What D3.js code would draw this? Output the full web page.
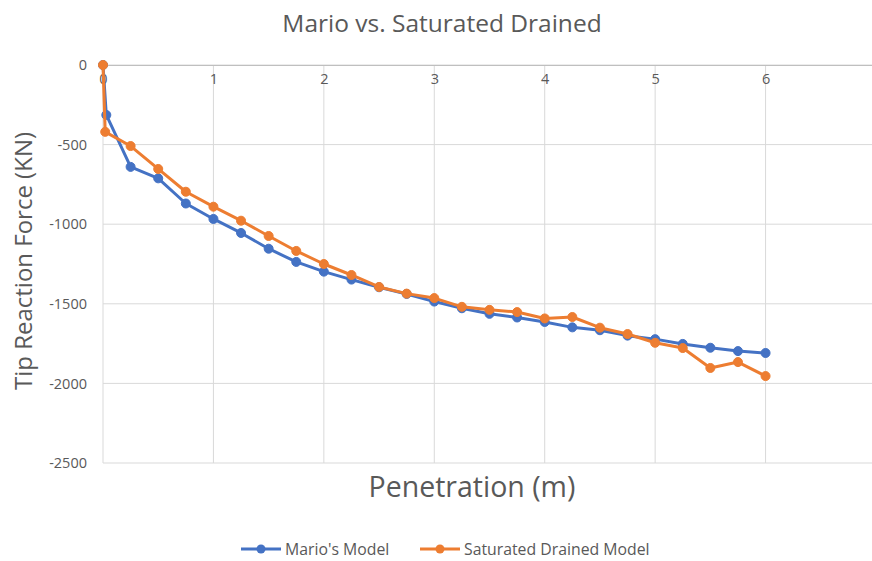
<!DOCTYPE html>
<html><head><meta charset="utf-8">
<script src="https://cdn.jsdelivr.net/npm/d3@7"></script>
<style>body{margin:0;background:#fff}svg{display:block}text{font-family:"Open Sans","Noto Sans",sans-serif}</style>
</head><body>
<svg id="c" width="872" height="561"></svg>
<script>
const marioX = [0, 0.03, 0.25, 0.5, 0.75, 1.0, 1.25, 1.5, 1.75, 2.0, 2.25, 2.5, 2.75, 3.0, 3.25, 3.5, 3.75, 4.0, 4.25, 4.5, 4.75, 5.0, 5.25, 5.5, 5.75, 6.0];
const marioY = [0, -314, -640, -712, -870, -967, -1055, -1154, -1237, -1298, -1348, -1396, -1438, -1486, -1528, -1563, -1586, -1614, -1648, -1666, -1700, -1722, -1752, -1776, -1797, -1809];
const drainedX = [0, 0.02, 0.25, 0.5, 0.75, 1.0, 1.25, 1.5, 1.75, 2.0, 2.25, 2.5, 2.75, 3.0, 3.25, 3.5, 3.75, 4.0, 4.25, 4.5, 4.75, 5.0, 5.25, 5.5, 5.75, 6.0];
const drainedY = [0, -420, -509, -653, -796, -890, -978, -1074, -1168, -1250, -1319, -1394, -1436, -1464, -1519, -1538, -1552, -1592, -1583, -1650, -1690, -1745, -1778, -1903, -1866, -1954];
const xTicks = [0, 1, 2, 3, 4, 5, 6, 7];
const yTicks = [0, -500, -1000, -1500, -2000, -2500];
const title = "Mario vs. Saturated Drained";
const xTitle = "Penetration (m)";
const yTitle = "Tip Reaction Force (KN)";
const seriesNames = ["Mario's Model", "Saturated Drained Model"];
const colors = ["#4472C4", "#ED7D31"];

const svg = d3.select("#c");
const x = d3.scaleLinear().domain([0, 7]).range([103, 876]);
const y = d3.scaleLinear().domain([-2500, 0]).range([463, 65]);
const fmt = d => String(d);

// gridlines
const grid = svg.append("g");
grid.selectAll(".hg").data(yTicks).join("line")
  .attr("x1", x(0)).attr("x2", x(7)).attr("y1", d => y(d)).attr("y2", d => y(d))
  .attr("stroke", "#d9d9d9").attr("stroke-width", 1);
grid.selectAll(".vg").data(xTicks).join("line")
  .attr("x1", d => x(d)).attr("x2", d => x(d)).attr("y1", y(0)).attr("y2", y(-2500))
  .attr("stroke", "#d9d9d9").attr("stroke-width", 1);

// axes
const xAxis = d3.axisBottom(x).tickValues(xTicks.slice(0, 7)).tickSize(0).tickPadding(9).tickFormat(fmt);
const gx = svg.append("g").attr("transform", `translate(0,${y(0)})`).call(xAxis);
gx.select(".domain").attr("stroke", "#bfbfbf");
gx.selectAll("text").attr("fill", "#595959").attr("font-size", 14.5).attr("font-family", "'Open Sans'");

const yAxis = d3.axisLeft(y).tickValues(yTicks).tickSize(0).tickPadding(16).tickFormat(fmt);
const gy = svg.append("g").attr("transform", `translate(${x(0)},0)`).call(yAxis);
gy.select(".domain").remove();
gy.selectAll("text").attr("fill", "#595959").attr("font-size", 14.5).attr("font-family", "'Open Sans'");

// series
const sets = [d3.zip(marioX, marioY), d3.zip(drainedX, drainedY)];
const line = d3.line().x(d => x(d[0])).y(d => y(d[1]));
sets.forEach((s, i) => {
  svg.append("path").datum(s).attr("d", line).attr("fill", "none")
    .attr("stroke", colors[i]).attr("stroke-width", 3).attr("stroke-linejoin", "round");
  svg.append("g").selectAll("circle").data(s).join("circle")
    .attr("cx", d => x(d[0])).attr("cy", d => y(d[1])).attr("r", 4.5)
    .attr("fill", colors[i]).attr("stroke", colors[i]).attr("stroke-width", 1);
});

// titles
svg.append("text").attr("x", 442).attr("y", 32).attr("text-anchor", "middle")
  .attr("font-size", 24.5).attr("fill", "#595959").text(title);
svg.append("text").attr("x", 472).attr("y", 497).attr("text-anchor", "middle")
  .attr("font-size", 28.5).attr("fill", "#595959").text(xTitle);
svg.append("text").attr("transform", "translate(32,261) rotate(-90)").attr("text-anchor", "middle")
  .attr("font-size", 24).attr("fill", "#595959").text(yTitle);

// legend
const legX = [241, 420];
seriesNames.forEach((n, i) => {
  const g = svg.append("g").attr("transform", `translate(${legX[i]},549)`);
  g.append("line").attr("x1", 0).attr("x2", 40).attr("stroke", colors[i]).attr("stroke-width", 3);
  g.append("circle").attr("cx", 20).attr("r", 4.5).attr("fill", colors[i]);
  g.append("text").attr("x", 44).attr("y", 5.5).attr("font-size", 15.8).attr("fill", "#595959").text(n);
});
</script>
</body></html>
